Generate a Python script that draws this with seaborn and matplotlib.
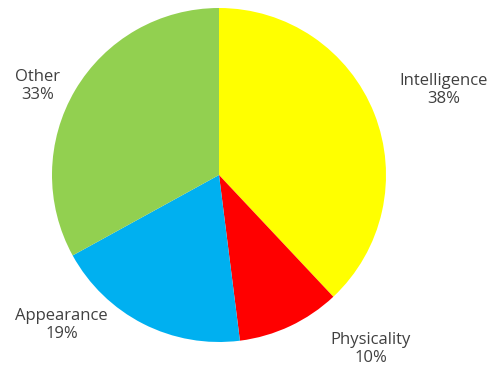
import numpy as np
import pandas as pd
import seaborn as sns
import matplotlib.pyplot as plt

# datos del grafico
categorias = ['Intelligence', 'Physicality', 'Appearance', 'Other']
porcentajes = [38, 10, 19, 33]
colores = ['#FFFF00', '#FF0000', '#00B0F0', '#92D050']

sns.set_theme(style='white')
plt.rcParams['font.family'] = ['Open Sans', 'DejaVu Sans']

df = pd.DataFrame({'categoria': categorias, 'pct': porcentajes})

fig = plt.figure(figsize=(5.02, 3.73), dpi=100)
ax = fig.add_axes([0, 0, 1, 1])

centro = (219, 373 - 175)
radio = 167
wedges, textos = ax.pie(df['pct'], colors=colores, startangle=90, counterclock=False,
                        center=centro, radius=radio, labels=df['categoria'],
                        frame=True, wedgeprops={'linewidth': 0, 'edgecolor': 'none'})
ax.set_xlim(0, 502)
ax.set_ylim(0, 373)
ax.set_aspect('equal')
ax.axis('off')

# posicion de las etiquetas (angulo en grados, distancia relativa al radio)
pos_etiquetas = [(20.7, 1.44), (-48.9, 1.38), (-136.4, 1.30), (153.9, 1.21)]
for t, (cat, pct), (ang, dist) in zip(textos, zip(categorias, porcentajes), pos_etiquetas):
    a = np.deg2rad(ang)
    t.set_position((centro[0] + dist * radio * np.cos(a), centro[1] + dist * radio * np.sin(a)))
    t.set_text(f'{cat}\n{pct}%')
    t.set_ha('center')
    t.set_va('center')
    t.set_multialignment('center')
    t.set_fontsize(12)
    t.set_color('#404040')
    t.set_linespacing(1.15)

fig.savefig('out.png', dpi=100)
